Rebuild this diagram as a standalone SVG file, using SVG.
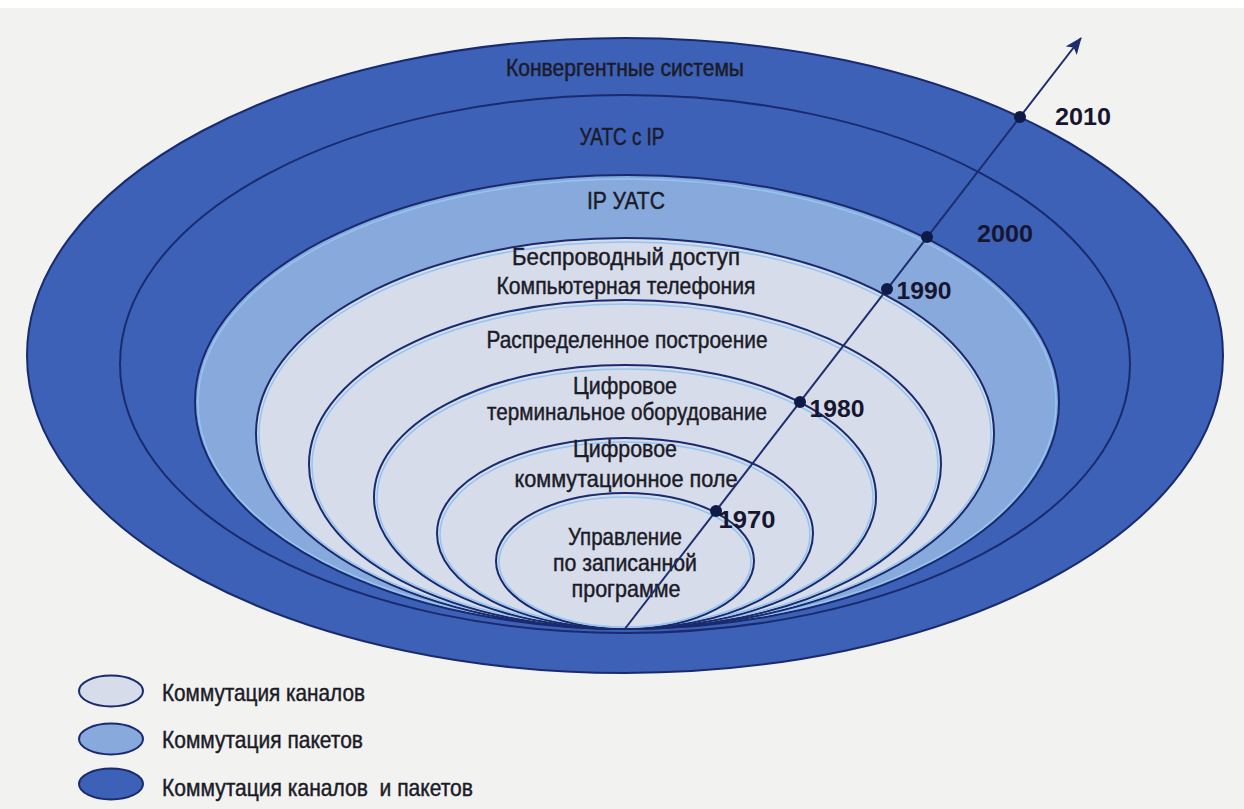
<svg xmlns="http://www.w3.org/2000/svg" width="1244" height="809" viewBox="0 0 1244 809">
<style>
.dark{fill:#3c61b6;stroke:#1a2a6e;stroke-width:2}
.mid{fill:#88a9dc;stroke:#1a2a6e;stroke-width:2}
.light{fill:#d6dce9;stroke:#1a2a6e;stroke-width:2}
.glow{fill:none;stroke:#93c4f2;stroke-width:1.5}
.lbl{font-family:"Liberation Sans","Arial",sans-serif;font-size:24px;fill:#1b1b28;stroke:#1b1b28;stroke-width:0.45;text-anchor:middle}
.yr{font-family:"Liberation Sans","Arial",sans-serif;font-size:24px;font-weight:bold;fill:#161630;text-anchor:middle}
.leg{font-family:"Liberation Sans","Arial",sans-serif;font-size:24px;fill:#1b1b28;stroke:#1b1b28;stroke-width:0.45}
.dot{fill:#0e1a48}
.conn{stroke:#1d2d6e;stroke-width:2;fill:none}
</style>
<defs>
<marker id="arrow" markerUnits="userSpaceOnUse" markerWidth="18" markerHeight="14" refX="16" refY="7" orient="auto">
<path d="M0,0 L17,7 L0,14 L4,7 z" fill="#1d2d6e"/>
</marker>
</defs>
<rect x="0" y="0" width="1244" height="809" fill="#f2f2f0"/>
<rect x="0" y="0" width="1244" height="8" fill="#ffffff"/>

<g id="node-convergent">
<ellipse class="dark" cx="625" cy="355.5" rx="598" ry="317.5"/>
<text class="lbl" x="625" y="76" textLength="238" lengthAdjust="spacingAndGlyphs">Конвергентные системы</text>
</g>
<g id="node-uats-ip">
<ellipse class="dark" cx="625" cy="364" rx="505" ry="269" stroke-width="1.5"/>
<text class="lbl" x="622" y="145" textLength="85" lengthAdjust="spacingAndGlyphs">УАТС с IP</text>
</g>
<g id="node-ip-uats">
<ellipse class="mid" cx="627" cy="402" rx="432" ry="227"/>
<ellipse class="glow" cx="627" cy="403" rx="429" ry="224"/>
<text class="lbl" x="626" y="209" textLength="78" lengthAdjust="spacingAndGlyphs">IP УАТС</text>
</g>
<g id="node-wireless">
<ellipse class="light" cx="625" cy="433.5" rx="369" ry="195.5"/>
<ellipse class="glow" cx="625" cy="434.5" rx="366" ry="192.5"/>
<text class="lbl" x="626" y="265" textLength="228" lengthAdjust="spacingAndGlyphs">Беспроводный доступ</text>
<text class="lbl" x="626" y="294" textLength="259" lengthAdjust="spacingAndGlyphs">Компьютерная телефония</text>
</g>
<g id="node-distributed">
<ellipse class="light" cx="625" cy="464.5" rx="316" ry="164.5"/>
<ellipse class="glow" cx="625" cy="465.5" rx="313" ry="161.5"/>
<text class="lbl" x="627" y="348" textLength="281" lengthAdjust="spacingAndGlyphs">Распределенное построение</text>
</g>
<g id="node-digital-terminal">
<ellipse class="light" cx="625" cy="497" rx="251" ry="132"/>
<ellipse class="glow" cx="625" cy="498" rx="248" ry="129"/>
<text class="lbl" x="625" y="394" textLength="104" lengthAdjust="spacingAndGlyphs">Цифровое</text>
<text class="lbl" x="627" y="420" textLength="280" lengthAdjust="spacingAndGlyphs">терминальное оборудование</text>
</g>
<g id="node-digital-switch">
<ellipse class="light" cx="625" cy="533.5" rx="188" ry="95.5"/>
<ellipse class="glow" cx="625" cy="534.5" rx="185" ry="92.5"/>
<text class="lbl" x="625" y="457" textLength="104" lengthAdjust="spacingAndGlyphs">Цифровое</text>
<text class="lbl" x="626" y="487" textLength="223" lengthAdjust="spacingAndGlyphs">коммутационное поле</text>
</g>
<g id="node-stored-program">
<ellipse class="light" cx="625" cy="561" rx="129" ry="68"/>
<ellipse class="glow" cx="625" cy="562" rx="126" ry="65"/>
<text class="lbl" x="625" y="545" textLength="114" lengthAdjust="spacingAndGlyphs">Управление</text>
<text class="lbl" x="625" y="571" textLength="144" lengthAdjust="spacingAndGlyphs">по записанной</text>
<text class="lbl" x="626" y="597" textLength="109" lengthAdjust="spacingAndGlyphs">программе</text>
</g>

<g id="connectors">
<line class="conn" x1="624" y1="630" x2="1081" y2="38" marker-end="url(#arrow)"/>
</g>

<g id="year-1970"><circle class="dot" cx="716" cy="511" r="6"/><text class="yr" x="747" y="528" textLength="57" lengthAdjust="spacingAndGlyphs">1970</text></g>
<g id="year-1980"><circle class="dot" cx="800" cy="402" r="6"/><text class="yr" x="837" y="417" textLength="55" lengthAdjust="spacingAndGlyphs">1980</text></g>
<g id="year-1990"><circle class="dot" cx="887" cy="289" r="6"/><text class="yr" x="924" y="299" textLength="55" lengthAdjust="spacingAndGlyphs">1990</text></g>
<g id="year-2000"><circle class="dot" cx="927" cy="237" r="6"/><text class="yr" x="1005" y="242" textLength="56" lengthAdjust="spacingAndGlyphs">2000</text></g>
<g id="year-2010"><circle class="dot" cx="1020" cy="117" r="6"/><text class="yr" x="1083" y="125" textLength="56" lengthAdjust="spacingAndGlyphs">2010</text></g>

<g id="legend">
<ellipse class="light" cx="111" cy="691" rx="32" ry="15.5" stroke-width="3"/>
<ellipse class="mid" cx="111" cy="739" rx="32" ry="15.5" stroke-width="3"/>
<ellipse class="dark" cx="111" cy="784" rx="32" ry="15.5" stroke-width="3"/>
<text class="leg" x="162" y="701" textLength="203" lengthAdjust="spacingAndGlyphs">Коммутация каналов</text>
<text class="leg" x="162" y="748" textLength="201" lengthAdjust="spacingAndGlyphs">Коммутация пакетов</text>
<text class="leg" x="162" y="796" textLength="311" lengthAdjust="spacingAndGlyphs" xml:space="preserve">Коммутация каналов  и пакетов</text>
</g>
</svg>
